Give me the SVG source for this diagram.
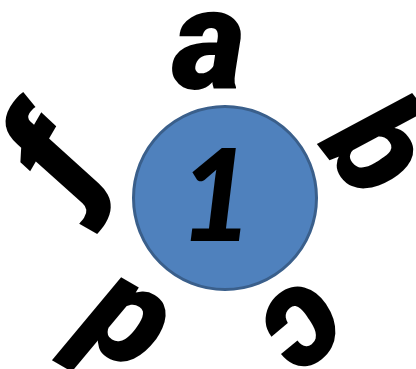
<svg xmlns="http://www.w3.org/2000/svg" width="416" height="369" viewBox="0 0 416 369">
<style>
.lt{font-family:Roboto,"Liberation Sans",sans-serif;font-weight:900;font-style:italic;fill:#000;text-anchor:middle;font-size:142px}
.lf{font-family:"Open Sans","Noto Sans",sans-serif;font-weight:800;font-style:italic;fill:#000;text-anchor:middle;font-size:140px}
.num{font-family:Lato,"DejaVu Sans",sans-serif;font-weight:900;font-style:italic;fill:#000;text-anchor:middle;font-size:128px}
</style>
<rect width="416" height="369" fill="#fff"/>
<g id="node1">
<circle cx="225" cy="198" r="91.5" fill="#4F81BD" stroke="#3A5F8B" stroke-width="3"/>
<text class="num" x="216" y="241">1</text>
</g>
<g id="label-a"><text class="lt" x="209" y="89" font-size="148">a</text></g>
<g id="label-b" transform="translate(341 175) rotate(52)"><text class="lt" x="0" y="0">b</text></g>
<g id="label-c" transform="translate(277 297) rotate(140)"><text class="lt" x="0" y="0" font-size="136">c</text></g>
<g id="label-d" transform="translate(143 290) rotate(210)"><text class="lt" x="0" y="0">d</text></g>
<g id="label-f" transform="translate(91 181) rotate(300)"><text class="lf" x="0" y="0">f</text></g>
<g id="connectors"/>
</svg>
